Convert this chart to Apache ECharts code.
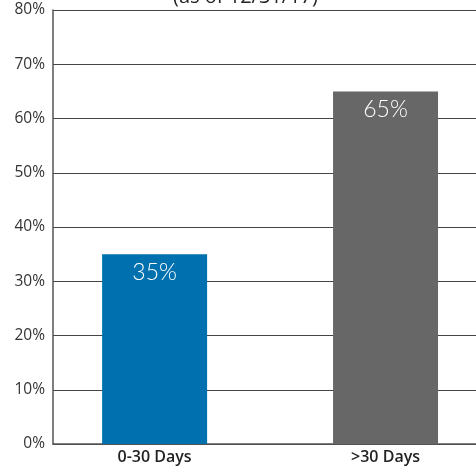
<!DOCTYPE html>
<html>
<head>
<meta charset="utf-8">
<script src="https://cdn.jsdelivr.net/npm/echarts@6/dist/echarts.min.js"></script>
<style>
  html, body { margin: 0; padding: 0; background: #fff; }
  #chart { width: 476px; height: 466px; }
</style>
</head>
<body>
<div id="chart"></div>
<script>
const categories = ["0-30 Days", ">30 Days"];
const positions = [1, 2];
const shares = [35, 65];
const barColors = ["#0071ae", "#676767"];

const chart = echarts.init(document.getElementById("chart"));

const option = {
  animation: false,
  title: {
    text: "(as of 12/31/17)",
    left: 168,
    top: -18,
    textStyle: { fontFamily: "Open Sans", fontSize: 20, fontWeight: "normal", color: "#222" },
  },
  // plot runs off the right edge, like the source crop
  grid: { left: 53, width: 448, top: 10, bottom: 22, outerBoundsMode: "none" },
  xAxis: {
    type: "value",
    min: 0.56,
    max: 2.5,
    splitLine: { show: false },
    axisTick: { show: false },
    axisLine: { show: true, lineStyle: { color: "#555", width: 1.5 } },
    axisLabel: {
      customValues: positions,
      formatter: (v) => categories[positions.indexOf(v)],
      color: "#222",
      fontFamily: "Open Sans",
      fontWeight: 600,
      fontSize: 16,
      margin: 5,
    },
  },
  yAxis: {
    type: "value",
    min: 0,
    max: 80,
    interval: 10,
    axisLine: { show: true, lineStyle: { color: "#555", width: 1.5 } },
    axisTick: { show: false },
    splitLine: { lineStyle: { color: "#444", width: 1 } },
    axisLabel: {
      formatter: "{value}%",
      color: "#333",
      fontFamily: "Open Sans",
      fontSize: 15.5,
      margin: 8,
    },
  },
  series: [
    {
      type: "bar",
      barWidth: 105,
      data: positions.map((x, i) => ({
        value: [x, shares[i]],
        itemStyle: { color: barColors[i] },
      })),
      label: {
        show: true,
        position: "insideTop",
        distance: 7,
        formatter: (p) => p.value[1] + "%",
        color: "#fff",
        fontFamily: "Lato",
        fontWeight: 300,
        fontSize: 23,
      },
    },
  ],
};

chart.setOption(option);
window.addEventListener("resize", chart.resize);
</script>
</body>
</html>
